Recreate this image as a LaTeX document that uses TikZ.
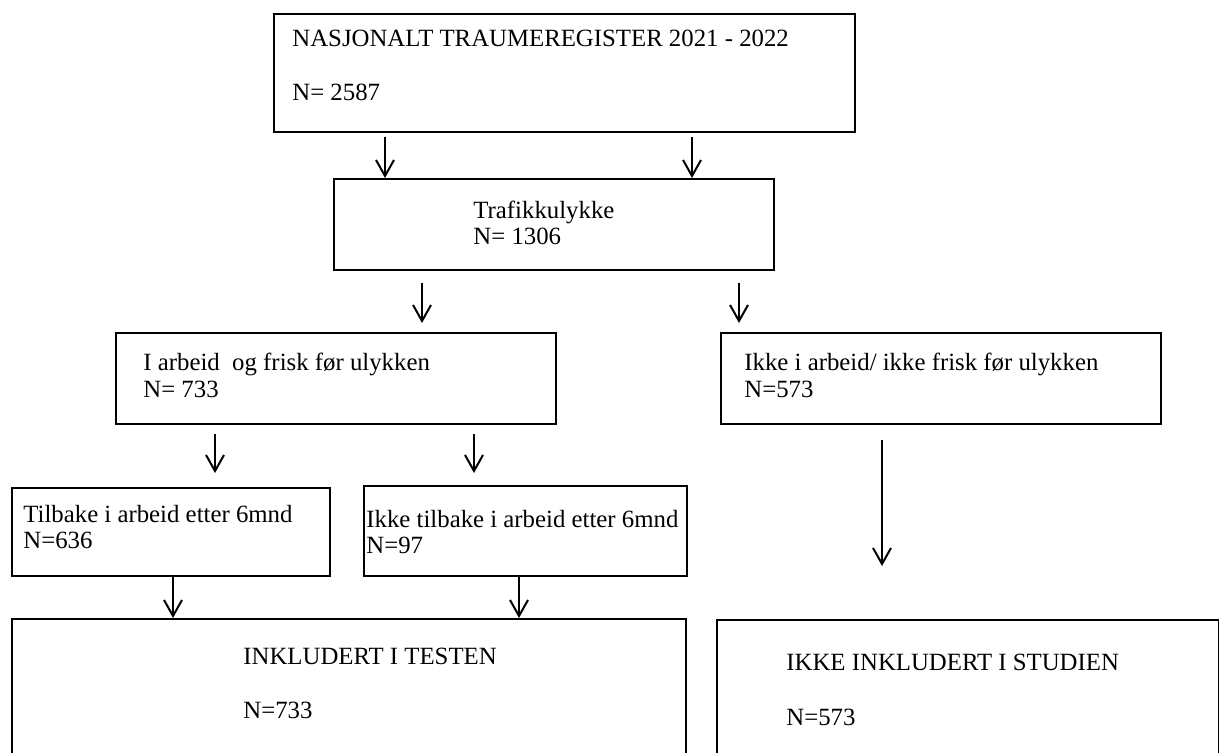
\documentclass[tikz,border=0pt]{standalone}
\usepackage{fontspec}
\setmainfont{Liberation Serif}
\usetikzlibrary{arrows.meta}

\begin{document}
\begin{tikzpicture}[x=0.5pt,y=-0.5pt,>={Straight Barb[length=8pt,width=9pt]},
	box/.style={draw,line width=1.2pt,anchor=north west,inner sep=0pt},
	txt/.style={anchor=base west,inner sep=0pt,font=\fontsize{12.4}{15}\selectfont},
	arr/.style={->,line width=1pt}]
	\clip (0,0) rectangle (1219,752);
	\fill[white] (0,0) rectangle (1219,752);
	% boxes
	\node[box,minimum width=290.5pt,minimum height=59pt] (reg) at (273,13) {};
	\node[box,minimum width=220pt,minimum height=45.5pt] (traf) at (333,178) {};
	\node[box,minimum width=220pt,minimum height=45.5pt] (work) at (115,332) {};
	\node[box,minimum width=220pt,minimum height=45.5pt] (nowork) at (720,332) {};
	\node[box,minimum width=159pt,minimum height=44pt] (back) at (11,487) {};
	\node[box,minimum width=161.5pt,minimum height=45pt] (noback) at (363,485) {};
	\node[box,minimum width=337pt,minimum height=80pt] (incl) at (11,618) {};
	\node[box,minimum width=251pt,minimum height=80pt] (excl) at (716,619) {};
	% texts
	\node[txt] (regT) at (292,46) {NASJONALT TRAUMEREGISTER 2021 - 2022};
	\node[txt] (regN) at (292,100) {N= 2587};
	\node[txt] (trafT) at (473,218) {Trafikkulykke};
	\node[txt] (trafN) at (473,244) {N= 1306};
	\node[txt] (workT) at (143,370) {I arbeid\ \ og frisk før ulykken};
	\node[txt] (workN) at (143,397) {N= 733};
	\node[txt] (noworkT) at (744,370) {Ikke i arbeid/ ikke frisk før ulykken};
	\node[txt] (noworkN) at (744,397) {N=573};
	\node[txt] (backT) at (23,522) {Tilbake i arbeid etter 6mnd};
	\node[txt] (backN) at (23,548) {N=636};
	\node[txt] (nobackT) at (366,527) {Ikke tilbake i arbeid etter 6mnd};
	\node[txt] (nobackN) at (366,553) {N=97};
	\node[txt] (inclT) at (243,664) {INKLUDERT I TESTEN};
	\node[txt] (inclN) at (243,718) {N=733};
	\node[txt] (exclT) at (786,670) {IKKE INKLUDERT I STUDIEN};
	\node[txt] (exclN) at (786,725) {N=573};
	% arrows
	\coordinate (x1) at (385,0);
	\coordinate (x2) at (692,0);
	\coordinate (x3) at (422,0);
	\coordinate (x4) at (739,0);
	\coordinate (x5) at (215,0);
	\coordinate (x6) at (474,0);
	\coordinate (x7) at (173,0);
	\coordinate (x8) at (519,0);
	\coordinate (x9) at (882,0);
	\draw[arr,shorten <=2pt] (reg.south -| x1) -- (traf.north -| x1);
	\draw[arr,shorten <=2pt] (reg.south -| x2) -- (traf.north -| x2);
	\draw[arr,shorten <=6pt,shorten >=4.5pt] (traf.south -| x3) -- (work.north -| x3);
	\draw[arr,shorten <=6pt,shorten >=4.5pt] (traf.south -| x4) -- (nowork.north -| x4);
	\draw[arr,shorten <=4.5pt,shorten >=7pt] (work.south -| x5) -- (back.north -| x5);
	\draw[arr,shorten <=4.5pt,shorten >=6pt] (work.south -| x6) -- (noback.north -| x6);
	\draw[arr] (back.south -| x7) -- (incl.north -| x7);
	\draw[arr] (noback.south -| x8) -- (incl.north -| x8);
	\draw[arr,shorten <=7.5pt,shorten >=26.5pt] (nowork.south -| x9) -- (excl.north -| x9);
\end{tikzpicture}
\end{document}
